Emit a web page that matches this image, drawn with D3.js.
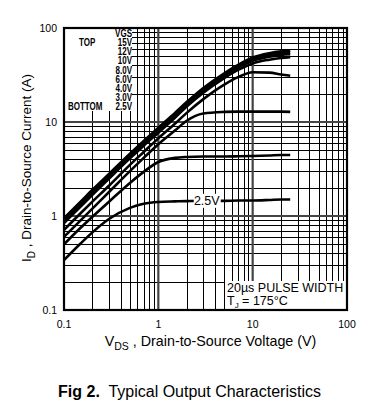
<!DOCTYPE html>
<html><head><meta charset="utf-8">
<script src="https://cdn.jsdelivr.net/npm/d3@7"></script>
<style>
html,body{margin:0;padding:0;background:#fff;}
svg{display:block;font-family:"Liberation Sans",Arial,sans-serif;}
</style></head>
<body>
<svg id="c" width="366" height="417"></svg>
<script>
// ---- data ----
const vds = [0.1, 0.15, 0.2, 0.3, 0.5, 0.7, 1, 1.5, 2, 3, 5, 7, 10, 15, 20, 25];
const id15 = [0.95, 1.42, 1.9, 2.8, 4.6, 6.3, 8.7, 12.5, 16.3, 23, 33, 40.5, 48.5, 54, 56.5, 57.5];
const id12 = [0.92, 1.38, 1.83, 2.7, 4.45, 6.1, 8.4, 12.1, 15.8, 22.3, 32, 39.2, 46.5, 51.5, 54, 55];
const id10 = [0.88, 1.32, 1.76, 2.6, 4.3, 5.9, 8.1, 11.7, 15.3, 21.5, 30.8, 37.8, 44.8, 49.5, 51.8, 52.5];
const id8 = [0.84, 1.26, 1.68, 2.5, 4.1, 5.6, 7.7, 11.1, 14.6, 20.5, 29.3, 35.8, 42, 46, 48, 49];
const id6 = [0.71, 1.07, 1.42, 2.1, 3.5, 4.8, 6.7, 9.6, 12.5, 17.5, 25, 30, 33.8, 33.5, 32, 31];
const id4 = [0.6, 0.9, 1.2, 1.8, 3.0, 4.15, 5.8, 8.1, 10.3, 12.3, 12.8, 12.9, 12.9, 12.9, 12.9, 12.8];
const id3 = [0.5, 0.75, 0.98, 1.42, 2.25, 2.95, 3.75, 4.15, 4.25, 4.3, 4.3, 4.32, 4.35, 4.4, 4.45, 4.45];
const id25 = [0.34, 0.51, 0.67, 0.93, 1.22, 1.35, 1.41, 1.43, 1.44, 1.45, 1.45, 1.46, 1.46, 1.48, 1.5, 1.5];
const seriesNames = ["15V", "12V", "10V", "8.0V", "6.0V", "4.0V", "3.0V", "2.5V"];
const seriesVals = [id15, id12, id10, id8, id6, id4, id3, id25];
const xTicks = [0.1, 1, 10, 100];
const xTickLabels = ["0.1", "1", "10", "100"];
const yTicks = [0.1, 1, 10, 100];
const yTickLabels = ["0.1", "1", "10", "100"];
const curveLabel = {text: "2.5V", v: 3.26, i: 1.45};

// ---- layout ----
const L = 64, R = 347, T = 28, B = 310;
const svg = d3.select("#c");
const x = d3.scaleLog().domain([0.1, 100]).range([L, R]);
const y = d3.scaleLog().domain([0.1, 100]).range([B, T]);

// grid
const minor = [];
[0.1, 1, 10].forEach(d => { for (let k = 2; k <= 9; k++) minor.push(d * k); });
const majors = [1, 10];
const g = svg.append("g");
g.selectAll(".vx").data(minor).join("line")
  .attr("x1", d => Math.round(x(d)) + 0.5).attr("x2", d => Math.round(x(d)) + 0.5)
  .attr("y1", T).attr("y2", B).attr("stroke", "#000").attr("stroke-width", 1);
g.selectAll(".hy").data(minor).join("line")
  .attr("y1", d => Math.round(y(d)) + 0.5).attr("y2", d => Math.round(y(d)) + 0.5)
  .attr("x1", L).attr("x2", R).attr("stroke", "#000").attr("stroke-width", 1);
g.selectAll(".mx").data(majors).join("line")
  .attr("x1", d => x(d)).attr("x2", d => x(d))
  .attr("y1", T).attr("y2", B).attr("stroke", "#444").attr("stroke-width", 2.2);
g.selectAll(".my").data(majors).join("line")
  .attr("y1", d => y(d)).attr("y2", d => y(d))
  .attr("x1", L).attr("x2", R).attr("stroke", "#444").attr("stroke-width", 2.2);

// legend box (white)
svg.append("rect").attr("x", L).attr("y", T).attr("width", 68).attr("height", 83).attr("fill", "#fff");
// annotation box
svg.append("rect").attr("x", 225).attr("y", 281).attr("width", R - 225).attr("height", B - 281).attr("fill", "#fff");

// curves
const line = d3.line().x(d => x(d[0])).y(d => y(d[1])).curve(d3.curveMonotoneX);
svg.append("g").selectAll("path").data(seriesVals).join("path")
  .attr("d", vals => line(vds.map((v, i) => [v, vals[i]])))
  .attr("fill", "none").attr("stroke", "#000").attr("stroke-width", 2.6)
  .attr("stroke-linejoin", "round");

// 2.5V label
const lx = x(curveLabel.v), ly = y(curveLabel.i);
svg.append("rect").attr("x", lx - 13).attr("y", ly - 7).attr("width", 27).attr("height", 14).attr("fill", "#fff");
svg.append("text").attr("x", lx).attr("y", ly + 4.5).attr("text-anchor", "middle")
  .attr("font-size", 12.5).text(curveLabel.text);

// legend text (condensed bold)
const sx = 0.8;
const lg = svg.append("g").attr("font-weight", "bold")
  .attr("transform", `scale(${sx},1)`)
  .attr("font-size", 10);
const rowY = i => 33.5 + i * 9.15 + 3.5;
lg.append("text").attr("x", 132 / sx).attr("y", rowY(0)).attr("text-anchor", "end").text("VGS");
seriesNames.forEach((s, i) => {
  lg.append("text").attr("x", 132 / sx).attr("y", rowY(i + 1)).attr("text-anchor", "end").text(s);
});
lg.append("text").attr("x", 79 / sx).attr("y", rowY(1)).text("TOP");
lg.append("text").attr("x", 68 / sx).attr("y", rowY(8)).text("BOTTOM");

// annotation text
svg.append("text").attr("x", 227).attr("y", 291.5).attr("font-size", 12.5).text("20\u00b5s PULSE WIDTH");
const tj = svg.append("text").attr("x", 227).attr("y", 305).attr("font-size", 12.5);
tj.append("tspan").text("T");
tj.append("tspan").attr("font-size", 8).attr("dy", 3).text("J");
tj.append("tspan").attr("dy", -3).text(" = 175\u00b0C");

// frame
svg.append("rect").attr("x", L).attr("y", T).attr("width", R - L).attr("height", B - T)
  .attr("fill", "none").attr("stroke", "#000").attr("stroke-width", 2.2);

// tick labels
svg.append("g").selectAll("text").data(xTicks).join("text")
  .attr("x", d => x(d)).attr("y", 328).attr("text-anchor", "middle").attr("font-size", 10.5)
  .text((d, i) => xTickLabels[i]);
svg.append("g").selectAll("text").data(yTicks).join("text")
  .attr("x", 57).attr("y", d => y(d) + 4).attr("text-anchor", "end").attr("font-size", 10.5)
  .text((d, i) => yTickLabels[i]);

// axis titles
const xt = svg.append("text").attr("x", 210.5).attr("y", 346).attr("text-anchor", "middle").attr("font-size", 14.3);
xt.append("tspan").text("V");
xt.append("tspan").attr("font-size", 10.5).attr("dy", 3.5).text("DS");
xt.append("tspan").attr("dy", -3.5).text(" , Drain-to-Source Voltage (V)");

const yt = svg.append("text").attr("transform", "translate(31,168) rotate(-90)").attr("text-anchor", "middle").attr("font-size", 13.5);
yt.append("tspan").text("I");
yt.append("tspan").attr("font-size", 10).attr("dy", 3.5).text("D");
yt.append("tspan").attr("dy", -3.5).text(" , Drain-to-Source Current (A)");

// caption
const cap = svg.append("text").attr("x", 189.5).attr("y", 397).attr("text-anchor", "middle").attr("font-size", 16);
cap.append("tspan").attr("font-weight", "bold").text("Fig 2.");
cap.append("tspan").text("\u00a0 Typical Output Characteristics");
</script>
</body></html>
